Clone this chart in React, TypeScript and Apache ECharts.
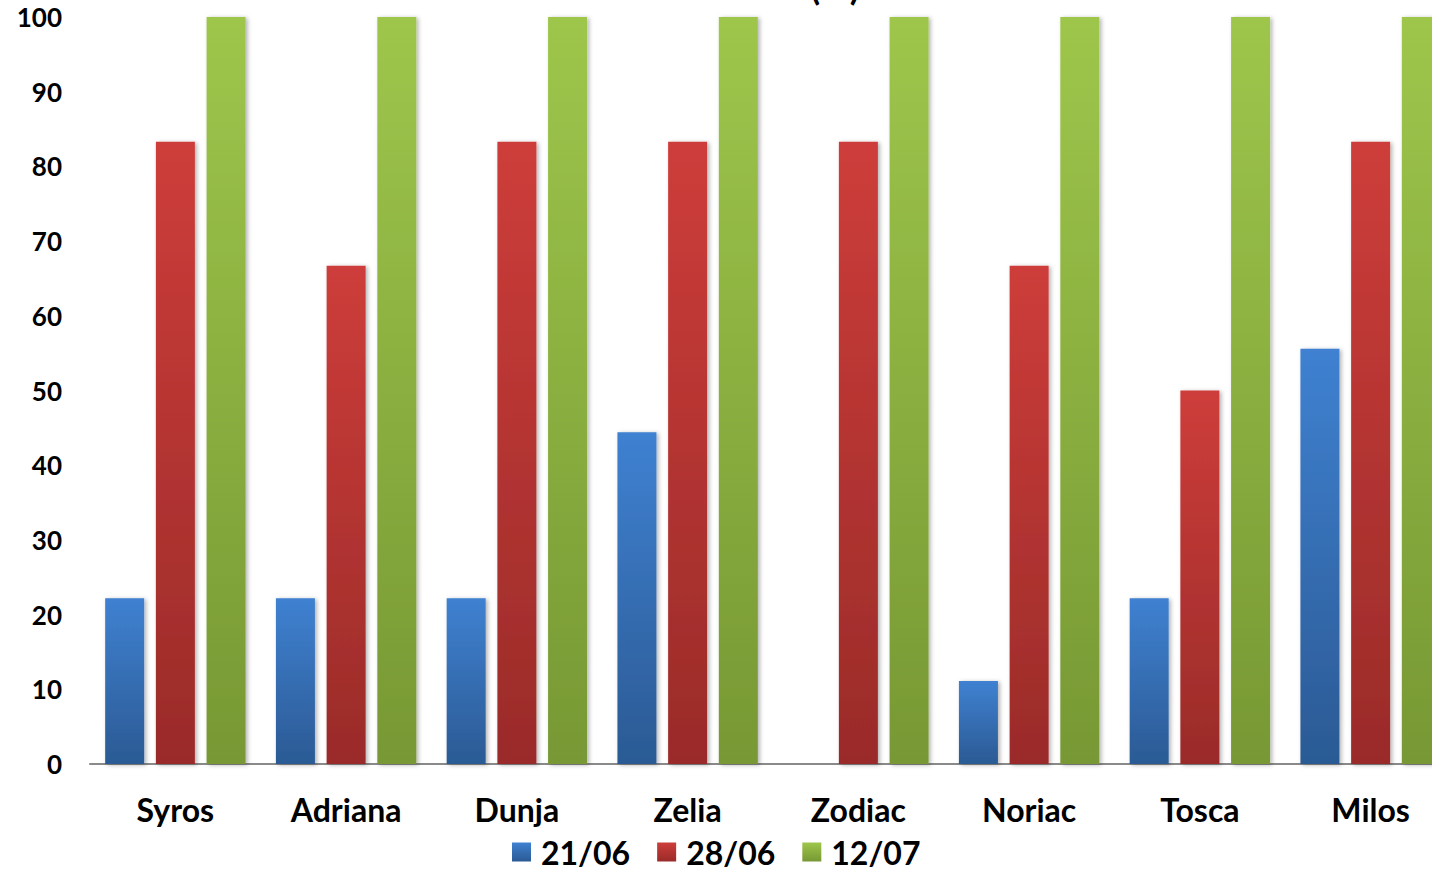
import React, { useEffect, useRef } from "react";
import * as echarts from "echarts";

const categories = ["Syros", "Adriana", "Dunja", "Zelia", "Zodiac", "Noriac", "Tosca", "Milos"];
const seriesNames = ["21/06", "28/06", "12/07"];
const values2106 = [22.2, 22.2, 22.2, 44.4, 0, 11.1, 22.2, 55.6];
const values2806 = [83.3, 66.7, 83.3, 83.3, 83.3, 66.7, 50, 83.3];
const values1207 = [100, 100, 100, 100, 100, 100, 100, 100];
const yTicks = { min: 0, max: 100, interval: 10 };
const titleText = "(%)";

const gradients = [
  ["#3f81d1", "#2b5a94"],
  ["#cd3d3a", "#9a2b29"],
  ["#9ec64b", "#779834"],
];

export default function App() {
  const ref = useRef<HTMLDivElement>(null);
  useEffect(() => {
    if (!ref.current) return;
    const chart = echarts.init(ref.current, undefined, { renderer: "svg" });
    const data = [values2106, values2806, values1207];
    chart.setOption({
      animation: false,
      backgroundColor: "#ffffff",
      graphic: [
        {
          type: "text",
          style: {
            text: titleText,
            x: 835,
            y: 44,
            textAlign: "center",
            textVerticalAlign: "bottom",
            font: "bold 36px Lato",
            fill: "#000",
          },
        },
      ],
      legend: {
        data: seriesNames,
        left: 507,
        top: 871,
        itemWidth: 19,
        itemHeight: 19,
        itemGap: 27,
        icon: "rect",
        textStyle: {
          fontFamily: "Lato",
          fontWeight: "bold",
          fontSize: 32,
          lineHeight: 30,
          color: "#000",
          padding: [0, 0, 0, 5],
        },
      },
      grid: { left: 90, right: 44, top: 57, bottom: 107, containLabel: false },
      xAxis: {
        type: "category",
        data: categories,
        axisLine: { lineStyle: { color: "#8a8a8a", width: 2 } },
        axisTick: { show: false },
        axisLabel: {
          fontFamily: "Lato",
          fontWeight: "bold",
          fontSize: 32,
          color: "#000",
          margin: 29,
        },
      },
      yAxis: {
        type: "value",
        min: yTicks.min,
        max: yTicks.max,
        interval: yTicks.interval,
        axisLine: { show: false },
        axisTick: { show: false },
        splitLine: {
          lineStyle: {
            color: "#8a8a8a",
            width: 2,
            shadowColor: "rgba(0,0,0,0.15)",
            shadowBlur: 2,
            shadowOffsetY: 1,
          },
        },
        axisLabel: {
          fontFamily: "Lato",
          fontWeight: "bold",
          fontSize: 26,
          color: "#000",
          margin: 28,
        },
      },
      series: seriesNames.map((name, i) => ({
        name,
        type: "bar",
        data: data[i],
        barWidth: 39,
        barGap: "30%",
        itemStyle: {
          color: new echarts.graphic.LinearGradient(0, 0, 0, 1, [
            { offset: 0, color: gradients[i][0] },
            { offset: 1, color: gradients[i][1] },
          ]),
          shadowColor: "rgba(0,0,0,0.3)",
          shadowBlur: 4,
          shadowOffsetX: 2,
          shadowOffsetY: 1,
        },
      })),
    });
    return () => chart.dispose();
  }, []);
  return (
    <div style={{ position: "fixed", left: 0, top: 0, width: 1432, height: 871, overflow: "hidden", background: "#fff" }}>
      <div ref={ref} style={{ position: "absolute", left: 0, top: -40, width: 1500, height: 911 }} />
    </div>
  );
}
